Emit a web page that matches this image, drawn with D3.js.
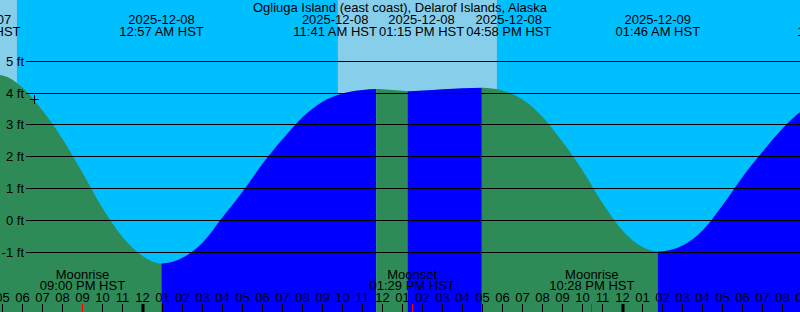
<!DOCTYPE html>
<html>
<head>
<meta charset="utf-8">
<script src="https://cdn.jsdelivr.net/npm/d3@7"></script>
<style>
  html, body { margin: 0; padding: 0; background: #fff; }
  svg { display: block; font-family: "Liberation Sans", Arial, sans-serif; }
</style>
</head>
<body>
<svg id="chart" width="800" height="312"></svg>
<script>
// ---------- data (hours since 2025-12-07 00:00 HST) ----------
const title = "Ogliuga Island (east coast), Delarof Islands, Alaska";

const tideTimes = [15.77, 16, 17, 18, 19, 20, 21, 22, 23, 24, 24.95,
  26, 27, 28, 29, 30, 31, 32, 33, 34, 35, 35.683, 36, 37, 37.25, 38, 39, 40, 40.967,
  42, 43, 44, 45, 46, 47, 48, 49, 49.767, 51, 52, 53, 54, 55, 56, 57, 58.85];
const tideHeights = [4.62, 4.61, 4.55, 4.17, 3.45, 2.56, 1.50, 0.39, -0.52, -1.11, -1.35,
  -1.17, -0.70, 0.10, 0.90, 1.78, 2.55, 3.24, 3.73, 3.99, 4.10, 4.13, 4.12, 4.07, 4.06, 4.08, 4.12, 4.15, 4.17,
  4.08, 3.80, 3.26, 2.47, 1.58, 0.55, -0.31, -0.83, -0.97, -0.78, -0.31, 0.48, 1.37, 2.16, 2.89, 3.47, 4.20];

const eventTimes = [15.77, 24.95, 35.683, 37.25, 40.967, 49.767, 58.85];
const eventTypes = ["high", "low", "high", "low", "high", "low", "high"];
const eventDates = ["2025-12-07", "2025-12-08", "2025-12-08", "2025-12-08", "2025-12-08", "2025-12-09", "2025-12-09"];
const eventClock = ["03:46 PM HST", "12:57 AM HST", "11:41 AM HST", "01:15 PM HST", "04:58 PM HST", "01:46 AM HST", "10:51 AM HST"];

const sunriseTimes = [9.77, 33.77, 57.8];
const sunsetTimes = [17.72, 41.72, 65.7];

const moonTimes = [21, 37.483, 46.467];
const moonNames = ["Moonrise", "Moonset", "Moonrise"];
const moonClock = ["09:00 PM HST", "01:29 PM HST", "10:28 PM HST"];

const heightTicks = [-1, 0, 1, 2, 3, 4, 5];
const hourTicks = d3.range(17, 58);
const midnightTimes = [24, 48];

const nowTime = 18.59, nowHeight = 3.81;

// ---------- layout / style ----------
const W = 800, H = 312;
const C = { sky: "#00BFFF", day: "#87CEEB", flood: "#0000FF", ebb: "#2E8B57", ink: "#000" };
const FS = 13;

const svg = d3.select("#chart");
const x = d3.scaleLinear().domain([16.875, 56.875]).range([0, W]);
const y = d3.scaleLinear().domain([-1, 5]).range([252.4, 61.2]);
const [t0, t1] = x.domain();

// sky
svg.append("rect").attr("width", W).attr("height", H).attr("fill", C.sky);
svg.append("g").selectAll("rect").data(sunriseTimes.map((s, i) => [s, sunsetTimes[i]]))
  .join("rect")
  .attr("x", d => x(Math.max(d[0], t0 - 2)))
  .attr("width", d => Math.max(0, x(Math.min(d[1], t1 + 2)) - x(Math.max(d[0], t0 - 2))))
  .attr("y", 0).attr("height", H).attr("fill", C.day);

// tide area as clip
const tide = tideTimes.map((t, i) => ({ t, h: tideHeights[i] }));
const area = d3.area().x(d => x(d.t)).y0(H).y1(d => y(d.h)).curve(d3.curveMonotoneX);
svg.append("clipPath").attr("id", "tideClip").append("path").attr("d", area(tide));

// flood/ebb intervals
const bounds = [t0 - 5, ...eventTimes, t1 + 5];
const intervals = d3.range(bounds.length - 1).map(i => ({
  a: bounds[i], b: bounds[i + 1],
  rising: i < eventTypes.length ? eventTypes[i] === "high" : eventTypes[eventTypes.length - 1] === "low"
}));
svg.append("g").attr("clip-path", "url(#tideClip)").selectAll("rect").data(intervals).join("rect")
  .attr("x", d => x(d.a)).attr("width", d => x(d.b) - x(d.a))
  .attr("y", 0).attr("height", H)
  .attr("fill", d => d.rising ? C.flood : C.ebb);

// grid lines + labels
const grid = svg.append("g");
grid.selectAll("line").data(heightTicks).join("line")
  .attr("x1", 26).attr("x2", W)
  .attr("y1", d => Math.floor(y(d)) + 0.5).attr("y2", d => Math.floor(y(d)) + 0.5)
  .attr("stroke", C.ink).attr("stroke-width", 1);
grid.selectAll("text").data(heightTicks).join("text")
  .attr("x", 24).attr("y", d => Math.floor(y(d)) + 5)
  .attr("text-anchor", "end").attr("font-size", FS).attr("fill", C.ink)
  .text(d => `${d} ft`);

// "now" marker
const mx = Math.floor(x(nowTime)) + 0.5, my = Math.floor(y(nowHeight)) + 0.5;
svg.append("path").attr("d", `M${mx - 4.5},${my}H${mx + 4.5}M${mx},${my - 4.5}V${my + 4.5}`)
  .attr("stroke", C.ink).attr("stroke-width", 1).attr("fill", "none");

// hour ticks
const hours = svg.append("g");
const hourLabel = t => String((t % 12) || 12).padStart(2, "0");
hours.selectAll("line.h").data(hourTicks.filter(t => !midnightTimes.includes(t))).join("line")
  .attr("class", "h")
  .attr("x1", d => Math.floor(x(d)) + 0.5).attr("x2", d => Math.floor(x(d)) + 0.5)
  .attr("y1", 304).attr("y2", H).attr("stroke", C.ink);
hours.selectAll("rect.m").data(midnightTimes).join("rect").attr("class", "m")
  .attr("x", d => Math.round(x(d)) - 1.5).attr("width", 3)
  .attr("y", 304).attr("height", H - 304).attr("fill", C.ink);
hours.selectAll("line.moon").data(moonTimes).join("line").attr("class", "moon")
  .attr("x1", d => Math.floor(x(d)) + 0.5).attr("x2", d => Math.floor(x(d)) + 0.5)
  .attr("y1", 304).attr("y2", H).attr("stroke", "#FF0000");
hours.selectAll("text").data(hourTicks.concat([57])).join("text")
  .attr("x", d => x(d)).attr("y", 301.5)
  .attr("text-anchor", "middle").attr("font-size", FS).attr("fill", C.ink)
  .text(hourLabel);

// moon labels
const moon = svg.append("g").selectAll("g").data(moonTimes).join("g");
moon.append("text").attr("x", d => x(d)).attr("y", 278.5)
  .attr("text-anchor", "middle").attr("font-size", FS).attr("fill", C.ink)
  .text((d, i) => moonNames[i]);
moon.append("text").attr("x", d => x(d)).attr("y", 290.3)
  .attr("text-anchor", "middle").attr("font-size", FS).attr("fill", C.ink)
  .text((d, i) => moonClock[i]);

// title
svg.append("text").attr("x", W / 2).attr("y", 12).attr("text-anchor", "middle")
  .attr("font-size", FS).attr("fill", C.ink).text(title);

// tide event labels with overlap avoidance
const evG = svg.append("g");
const evs = eventTimes.map((t, i) => {
  const g = evG.append("g");
  const d1 = g.append("text").attr("y", 24).attr("text-anchor", "middle")
    .attr("font-size", FS).attr("fill", C.ink).text(eventDates[i]);
  const d2 = g.append("text").attr("y", 36).attr("text-anchor", "middle")
    .attr("font-size", FS).attr("fill", C.ink).text(eventClock[i]);
  const w = Math.max(d1.node().getComputedTextLength(), d2.node().getComputedTextLength());
  return { want: x(t), w, g, d1, d2 };
});
const pad = 2;
let clusters = evs.map(e => ({ m: [e] }));
function place(c) {
  const total = d3.sum(c.m, e => e.w) + pad * (c.m.length - 1);
  const mean = d3.mean(c.m, e => e.want);
  let cur = mean - total / 2;
  let lefts = [];
  c.m.forEach(e => { e.pos = cur + e.w / 2; cur += e.w + pad; });
  // recentre so mean of positions equals mean of wanted
  const shift = mean - d3.mean(c.m, e => e.pos);
  c.m.forEach(e => e.pos += shift);
  c.left = d3.min(c.m, e => e.pos - e.w / 2);
  c.right = d3.max(c.m, e => e.pos + e.w / 2);
}
clusters.forEach(place);
let merged = true;
while (merged) {
  merged = false;
  for (let i = 0; i < clusters.length - 1; i++) {
    if (clusters[i].right + pad > clusters[i + 1].left) {
      clusters[i].m = clusters[i].m.concat(clusters[i + 1].m);
      clusters.splice(i + 1, 1);
      place(clusters[i]);
      merged = true;
      break;
    }
  }
}
evs.forEach(e => { e.d1.attr("x", e.pos); e.d2.attr("x", e.pos); });
</script>
</body>
</html>
